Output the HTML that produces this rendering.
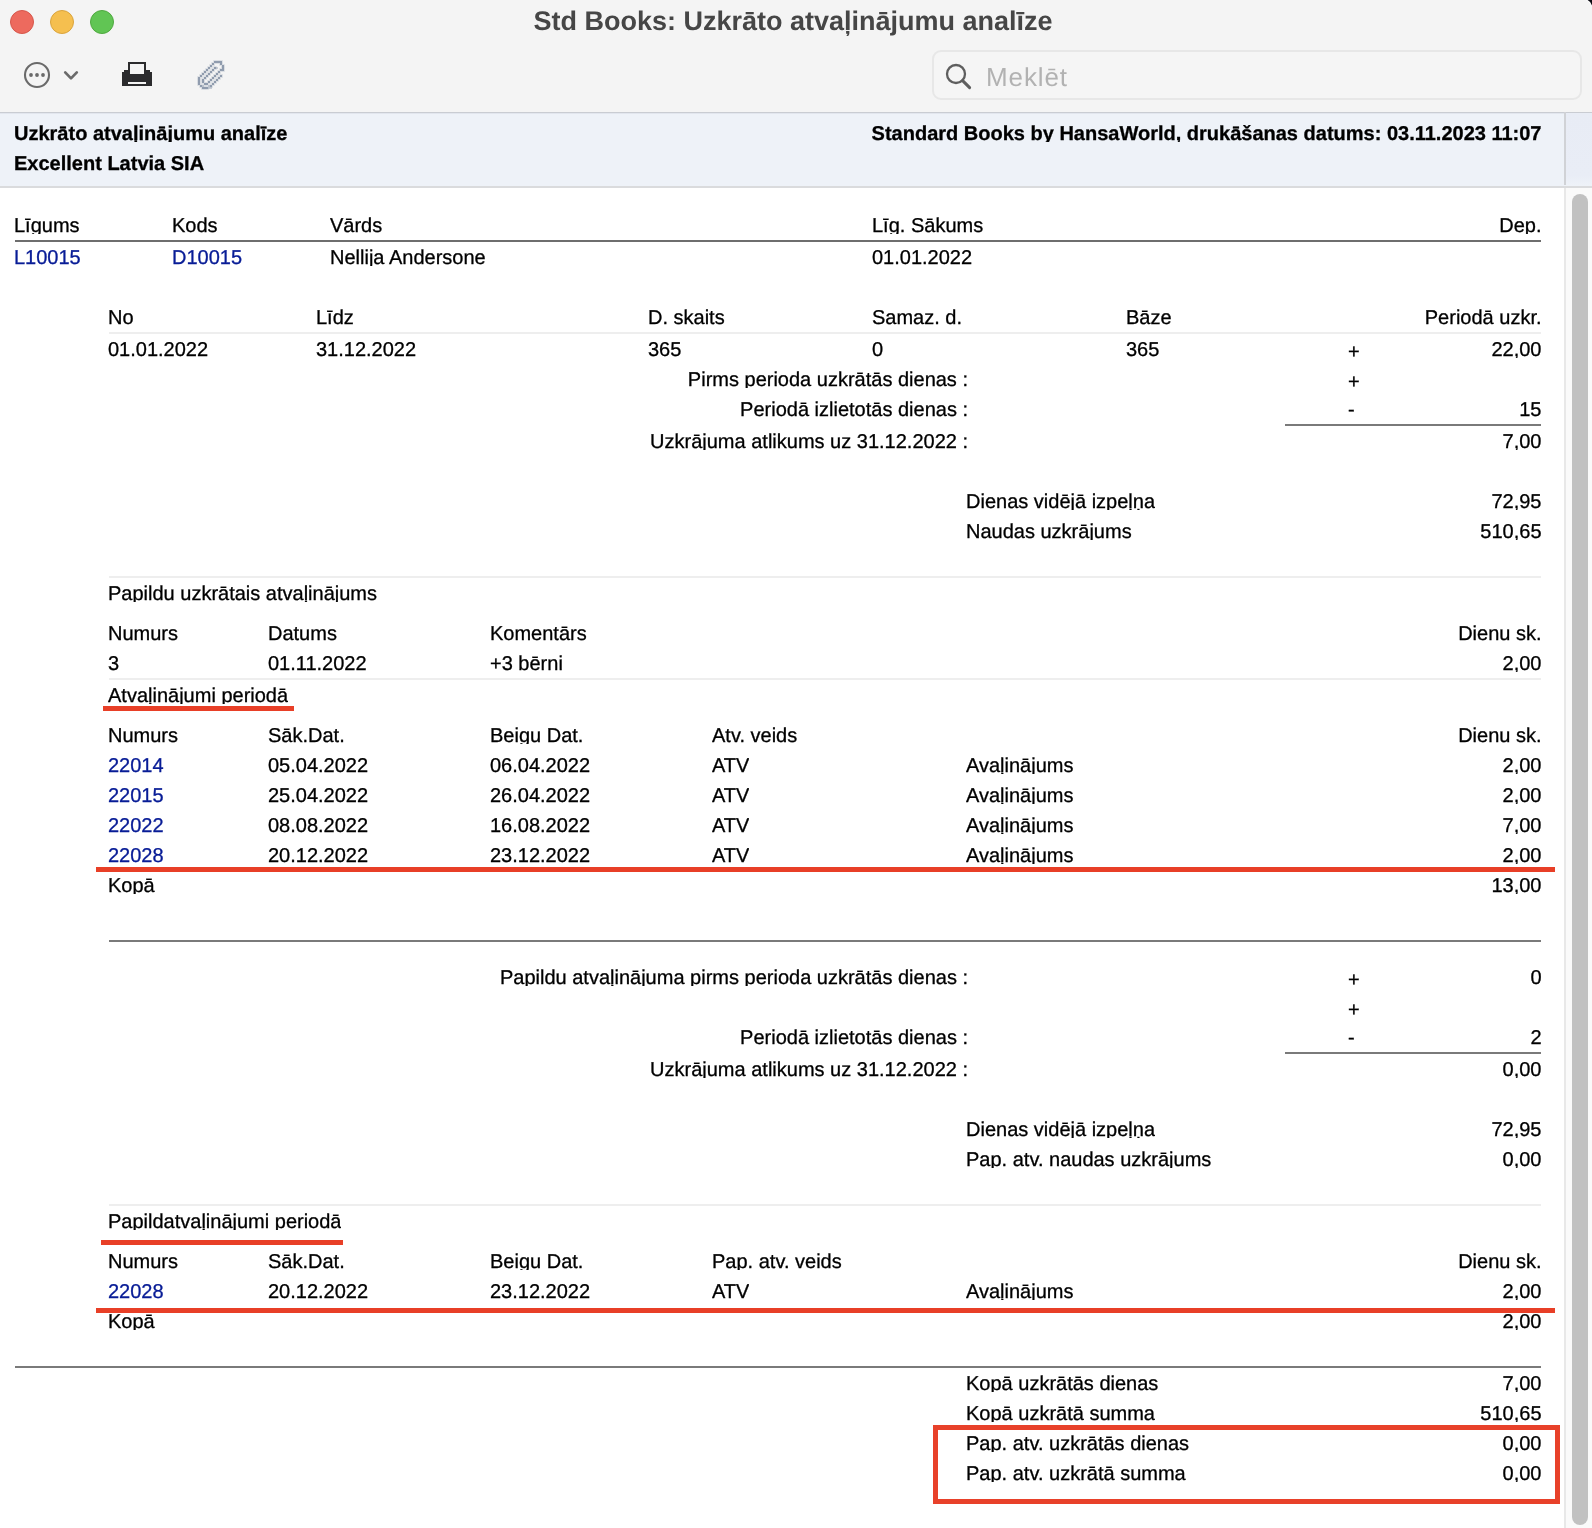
<!DOCTYPE html>
<html><head><meta charset="utf-8">
<style>
html,body{margin:0;padding:0;}
body{width:1592px;height:1528px;position:relative;overflow:hidden;background:#fff;font-family:"Liberation Sans",sans-serif;font-size:20px;color:#000;text-rendering:geometricPrecision;}
.titlebar{position:absolute;left:0;top:0;width:1592px;height:112px;background:#f4f4f4;}
.tl{position:absolute;top:10px;width:24px;height:24px;border-radius:50%;box-sizing:border-box;}
.title{position:absolute;left:-3px;width:1592px;top:6px;text-align:center;font-weight:bold;font-size:27px;line-height:30px;color:#464646;}
.search{position:absolute;left:932px;top:50px;width:650px;height:50px;box-sizing:border-box;border:2px solid #e7e7e7;border-radius:9px;background:#f5f5f5;}
.search span{position:absolute;left:52px;top:10px;font-size:26px;line-height:30px;color:#b2b2b2;letter-spacing:0.9px;}
.band{position:absolute;left:0;top:112px;width:1592px;height:73px;background:#eef2f8;border-top:1px solid #c9ccd2;border-bottom:2px solid #dadbdd;box-sizing:content-box;box-shadow:inset 0 1px 0 #e2e6ee;}
.bandr{position:absolute;left:1566px;top:113px;width:26px;height:73px;background:linear-gradient(#e8ecf5 0,#e9edf6 85%,#eef2f8 100%);}
.vsep{position:absolute;left:1564px;top:112px;width:2px;height:73px;background:#d0d2d6;}
.track{position:absolute;left:1564px;top:188px;width:28px;height:1340px;background:#fafafa;border-left:2px solid #e8e8e8;box-sizing:border-box;}
.thumb{position:absolute;left:1572px;top:194px;width:16px;height:1331px;border-radius:8px;background:#c1c1c1;}
.t{position:absolute;white-space:nowrap;line-height:20px;height:18px;overflow:hidden;-webkit-text-stroke:0.3px currentColor;}
.t.r{text-align:right;}
.t.b{font-weight:bold;}
.t.a{color:#081c96;}
.hl{position:absolute;}
.ic{position:absolute;display:block;}
.redbox{position:absolute;left:933px;top:1425px;width:627px;height:79px;box-sizing:border-box;border:5px solid #e8412a;}
</style></head><body>
<div class="titlebar"></div>
<div style="position:absolute;left:0;top:0;width:1592px;height:112px;will-change:transform;">
<div class="tl" style="left:10px;background:#ed6a5e;border:1px solid #d5564a"></div>
<div class="tl" style="left:50px;background:#f5bf4f;border:1px solid #d9a33c"></div>
<div class="tl" style="left:90px;background:#61c554;border:1px solid #4fa83f"></div>
<div class="title">Std Books: Uzkrāto atvaļinājumu analīze</div>
<div class="search"><span>Meklēt</span></div>

<svg class="ic" style="left:22px;top:60px" width="60" height="30" viewBox="0 0 60 30">
<circle cx="15" cy="15" r="12" fill="none" stroke="#6a6a6a" stroke-width="2.1"/>
<circle cx="9" cy="15" r="1.9" fill="#6a6a6a"/><circle cx="15" cy="15" r="1.9" fill="#6a6a6a"/><circle cx="21" cy="15" r="1.9" fill="#6a6a6a"/>
<path d="M43.2 12.4 L49 18.4 L54.8 12.4" fill="none" stroke="#6a6a6a" stroke-width="2.7" stroke-linecap="round" stroke-linejoin="round"/>
</svg>
<svg class="ic" style="left:122px;top:62px" width="30" height="24" viewBox="0 0 30 24">
<path d="M0 10 H2 V8 H28 V10 H30 V24 H0 Z" fill="#2b2b2d"/>
<rect x="6" y="0" width="18" height="12" fill="#2b2b2d"/>
<rect x="8" y="2" width="14" height="10" fill="#f4f4f4"/>
<rect x="6" y="20" width="18" height="2" fill="#f4f4f4"/>
</svg>
<svg class="ic" style="left:196px;top:59px" width="30" height="32" viewBox="-2 -2 30 32" fill="#909cae"><g opacity=".28"><rect x="15.2" y="-0.8" width="3.6" height="3.6"/><rect x="17.2" y="-0.8" width="3.6" height="3.6"/><rect x="19.2" y="-0.8" width="3.6" height="3.6"/><rect x="21.2" y="-0.8" width="3.6" height="3.6"/><rect x="13.2" y="1.2" width="3.6" height="3.6"/><rect x="21.2" y="1.2" width="3.6" height="3.6"/><rect x="11.2" y="3.2" width="3.6" height="3.6"/><rect x="23.2" y="3.2" width="3.6" height="3.6"/><rect x="9.2" y="5.2" width="3.6" height="3.6"/><rect x="15.2" y="5.2" width="3.6" height="3.6"/><rect x="23.2" y="5.2" width="3.6" height="3.6"/><rect x="7.2" y="7.2" width="3.6" height="3.6"/><rect x="13.2" y="7.2" width="3.6" height="3.6"/><rect x="21.2" y="7.2" width="3.6" height="3.6"/><rect x="23.2" y="7.2" width="3.6" height="3.6"/><rect x="5.2" y="9.2" width="3.6" height="3.6"/><rect x="11.2" y="9.2" width="3.6" height="3.6"/><rect x="19.2" y="9.2" width="3.6" height="3.6"/><rect x="3.2" y="11.2" width="3.6" height="3.6"/><rect x="9.2" y="11.2" width="3.6" height="3.6"/><rect x="17.2" y="11.2" width="3.6" height="3.6"/><rect x="1.2" y="13.2" width="3.6" height="3.6"/><rect x="7.2" y="13.2" width="3.6" height="3.6"/><rect x="15.2" y="13.2" width="3.6" height="3.6"/><rect x="21.2" y="13.2" width="3.6" height="3.6"/><rect x="-0.8" y="15.2" width="3.6" height="3.6"/><rect x="5.2" y="15.2" width="3.6" height="3.6"/><rect x="13.2" y="15.2" width="3.6" height="3.6"/><rect x="19.2" y="15.2" width="3.6" height="3.6"/><rect x="-0.8" y="17.2" width="3.6" height="3.6"/><rect x="3.2" y="17.2" width="3.6" height="3.6"/><rect x="11.2" y="17.2" width="3.6" height="3.6"/><rect x="17.2" y="17.2" width="3.6" height="3.6"/><rect x="-0.8" y="19.2" width="3.6" height="3.6"/><rect x="3.2" y="19.2" width="3.6" height="3.6"/><rect x="9.2" y="19.2" width="3.6" height="3.6"/><rect x="15.2" y="19.2" width="3.6" height="3.6"/><rect x="-0.8" y="21.2" width="3.6" height="3.6"/><rect x="5.2" y="21.2" width="3.6" height="3.6"/><rect x="7.2" y="21.2" width="3.6" height="3.6"/><rect x="13.2" y="21.2" width="3.6" height="3.6"/><rect x="1.2" y="23.2" width="3.6" height="3.6"/><rect x="11.2" y="23.2" width="3.6" height="3.6"/><rect x="3.2" y="25.2" width="3.6" height="3.6"/><rect x="5.2" y="25.2" width="3.6" height="3.6"/><rect x="7.2" y="25.2" width="3.6" height="3.6"/></g><rect x="16" y="0" width="2" height="2"/><rect x="18" y="0" width="2" height="2"/><rect x="20" y="0" width="2" height="2"/><rect x="22" y="0" width="2" height="2"/><rect x="14" y="2" width="2" height="2"/><rect x="22" y="2" width="2" height="2"/><rect x="12" y="4" width="2" height="2"/><rect x="24" y="4" width="2" height="2"/><rect x="10" y="6" width="2" height="2"/><rect x="16" y="6" width="2" height="2"/><rect x="24" y="6" width="2" height="2"/><rect x="8" y="8" width="2" height="2"/><rect x="14" y="8" width="2" height="2"/><rect x="22" y="8" width="2" height="2"/><rect x="24" y="8" width="2" height="2"/><rect x="6" y="10" width="2" height="2"/><rect x="12" y="10" width="2" height="2"/><rect x="20" y="10" width="2" height="2"/><rect x="4" y="12" width="2" height="2"/><rect x="10" y="12" width="2" height="2"/><rect x="18" y="12" width="2" height="2"/><rect x="2" y="14" width="2" height="2"/><rect x="8" y="14" width="2" height="2"/><rect x="16" y="14" width="2" height="2"/><rect x="22" y="14" width="2" height="2"/><rect x="0" y="16" width="2" height="2"/><rect x="6" y="16" width="2" height="2"/><rect x="14" y="16" width="2" height="2"/><rect x="20" y="16" width="2" height="2"/><rect x="0" y="18" width="2" height="2"/><rect x="4" y="18" width="2" height="2"/><rect x="12" y="18" width="2" height="2"/><rect x="18" y="18" width="2" height="2"/><rect x="0" y="20" width="2" height="2"/><rect x="4" y="20" width="2" height="2"/><rect x="10" y="20" width="2" height="2"/><rect x="16" y="20" width="2" height="2"/><rect x="0" y="22" width="2" height="2"/><rect x="6" y="22" width="2" height="2"/><rect x="8" y="22" width="2" height="2"/><rect x="14" y="22" width="2" height="2"/><rect x="2" y="24" width="2" height="2"/><rect x="12" y="24" width="2" height="2"/><rect x="4" y="26" width="2" height="2"/><rect x="6" y="26" width="2" height="2"/><rect x="8" y="26" width="2" height="2"/><rect x="18" y="6" width="2" height="2" opacity=".45"/><rect x="10" y="26" width="2" height="2" opacity=".45"/><rect x="12" y="26" width="2" height="2" opacity=".45"/><rect x="4" y="24" width="2" height="2" opacity=".45"/><rect x="10" y="24" width="2" height="2" opacity=".45"/></svg>
<svg class="ic" style="left:944px;top:62px" width="30" height="30" viewBox="0 0 30 30">
<circle cx="12" cy="12" r="9" fill="none" stroke="#5e5e5e" stroke-width="2.3"/>
<path d="M18.6 18.6 L25.6 25.6" stroke="#5e5e5e" stroke-width="3" stroke-linecap="round"/>
</svg>
</div>
<svg class="ic" style="left:1584px;top:0" width="8" height="8" viewBox="0 0 8 8"><path d="M1.6 0 H8 V7.4 Q6.6 2.2 1.6 0 Z" fill="#fdfdfd"/><path d="M3.6 0 H8 V5.4 Q6.8 1.6 3.6 0 Z" fill="#0b0b12"/></svg>
<div class="band"></div>
<div class="bandr"></div>
<div class="vsep"></div>
<div class="track"></div>
<div class="thumb"></div>
<div id="content" style="position:absolute;left:0;top:0;width:1592px;height:1528px;will-change:transform;">
<div class="t b" style="left:14px;top:124px">Uzkrāto atvaļinājumu analīze</div>
<div class="t b" style="left:14px;top:154px">Excellent Latvia SIA</div>
<div class="t r b" style="right:50.5px;top:124px">Standard Books by HansaWorld, drukāšanas datums: 03.11.2023 11:07</div>
<div class="t " style="left:14px;top:216px">Līgums</div>
<div class="t " style="left:172px;top:216px">Kods</div>
<div class="t " style="left:330px;top:216px">Vārds</div>
<div class="t " style="left:872px;top:216px">Līg. Sākums</div>
<div class="t r " style="right:50.5px;top:216px">Dep.</div>
<div class="hl" style="left:15px;top:240px;width:1526px;height:2px;background:#6e6e6e"></div>
<div class="t a" style="left:14px;top:248px">L10015</div>
<div class="t a" style="left:172px;top:248px">D10015</div>
<div class="t " style="left:330px;top:248px">Nellija Andersone</div>
<div class="t " style="left:872px;top:248px">01.01.2022</div>
<div class="t " style="left:108px;top:308px">No</div>
<div class="t " style="left:316px;top:308px">Līdz</div>
<div class="t " style="left:648px;top:308px">D. skaits</div>
<div class="t " style="left:872px;top:308px">Samaz. d.</div>
<div class="t " style="left:1126px;top:308px">Bāze</div>
<div class="t r " style="right:50.5px;top:308px">Periodā uzkr.</div>
<div class="hl" style="left:109px;top:332px;width:1432px;height:2px;background:#eeeeee"></div>
<div class="t " style="left:108px;top:340px">01.01.2022</div>
<div class="t " style="left:316px;top:340px">31.12.2022</div>
<div class="t " style="left:648px;top:340px">365</div>
<div class="t " style="left:872px;top:340px">0</div>
<div class="t " style="left:1126px;top:340px">365</div>
<div class="t " style="left:1348px;top:342px">+</div>
<div class="t r " style="right:50.5px;top:340px">22,00</div>
<div class="t r " style="right:624px;top:370px">Pirms perioda uzkrātās dienas :</div>
<div class="t " style="left:1348px;top:372px">+</div>
<div class="t r " style="right:624px;top:400px">Periodā izlietotās dienas :</div>
<div class="t " style="left:1348px;top:400px">-</div>
<div class="t r " style="right:50.5px;top:400px">15</div>
<div class="hl" style="left:1285px;top:424px;width:256px;height:2px;background:#7a7a7a"></div>
<div class="t r " style="right:624px;top:432px">Uzkrājuma atlikums uz 31.12.2022 :</div>
<div class="t r " style="right:50.5px;top:432px">7,00</div>
<div class="t " style="left:966px;top:492px">Dienas vidējā izpeļņa</div>
<div class="t r " style="right:50.5px;top:492px">72,95</div>
<div class="t " style="left:966px;top:522px">Naudas uzkrājums</div>
<div class="t r " style="right:50.5px;top:522px">510,65</div>
<div class="hl" style="left:109px;top:576px;width:1432px;height:2px;background:#eeeeee"></div>
<div class="t " style="left:108px;top:584px">Papildu uzkrātais atvaļinājums</div>
<div class="t " style="left:108px;top:624px">Numurs</div>
<div class="t " style="left:268px;top:624px">Datums</div>
<div class="t " style="left:490px;top:624px">Komentārs</div>
<div class="t r " style="right:50.5px;top:624px">Dienu sk.</div>
<div class="t " style="left:108px;top:654px">3</div>
<div class="t " style="left:268px;top:654px">01.11.2022</div>
<div class="t " style="left:490px;top:654px">+3 bērni</div>
<div class="t r " style="right:50.5px;top:654px">2,00</div>
<div class="hl" style="left:109px;top:678px;width:1432px;height:2px;background:#eeeeee"></div>
<div class="t " style="left:108px;top:686px">Atvaļinājumi periodā</div>
<div class="hl" style="left:103px;top:706px;width:191px;height:5px;background:#e83f27"></div>
<div class="t " style="left:108px;top:726px">Numurs</div>
<div class="t " style="left:268px;top:726px">Sāk.Dat.</div>
<div class="t " style="left:490px;top:726px">Beigu Dat.</div>
<div class="t " style="left:712px;top:726px">Atv. veids</div>
<div class="t r " style="right:50.5px;top:726px">Dienu sk.</div>
<div class="t a" style="left:108px;top:756px">22014</div>
<div class="t " style="left:268px;top:756px">05.04.2022</div>
<div class="t " style="left:490px;top:756px">06.04.2022</div>
<div class="t " style="left:712px;top:756px">ATV</div>
<div class="t " style="left:966px;top:756px">Avaļinājums</div>
<div class="t r " style="right:50.5px;top:756px">2,00</div>
<div class="t a" style="left:108px;top:786px">22015</div>
<div class="t " style="left:268px;top:786px">25.04.2022</div>
<div class="t " style="left:490px;top:786px">26.04.2022</div>
<div class="t " style="left:712px;top:786px">ATV</div>
<div class="t " style="left:966px;top:786px">Avaļinājums</div>
<div class="t r " style="right:50.5px;top:786px">2,00</div>
<div class="t a" style="left:108px;top:816px">22022</div>
<div class="t " style="left:268px;top:816px">08.08.2022</div>
<div class="t " style="left:490px;top:816px">16.08.2022</div>
<div class="t " style="left:712px;top:816px">ATV</div>
<div class="t " style="left:966px;top:816px">Avaļinājums</div>
<div class="t r " style="right:50.5px;top:816px">7,00</div>
<div class="t a" style="left:108px;top:846px">22028</div>
<div class="t " style="left:268px;top:846px">20.12.2022</div>
<div class="t " style="left:490px;top:846px">23.12.2022</div>
<div class="t " style="left:712px;top:846px">ATV</div>
<div class="t " style="left:966px;top:846px">Avaļinājums</div>
<div class="t r " style="right:50.5px;top:846px">2,00</div>
<div class="hl" style="left:96px;top:867px;width:1459px;height:5px;background:#e83f27"></div>
<div class="t " style="left:108px;top:876px">Kopā</div>
<div class="t r " style="right:50.5px;top:876px">13,00</div>
<div class="hl" style="left:109px;top:940px;width:1432px;height:2px;background:#7a7a7a"></div>
<div class="t r " style="right:624px;top:968px">Papildu atvaļinājuma pirms perioda uzkrātās dienas :</div>
<div class="t " style="left:1348px;top:970px">+</div>
<div class="t r " style="right:50.5px;top:968px">0</div>
<div class="t " style="left:1348px;top:1000px">+</div>
<div class="t r " style="right:624px;top:1028px">Periodā izlietotās dienas :</div>
<div class="t " style="left:1348px;top:1028px">-</div>
<div class="t r " style="right:50.5px;top:1028px">2</div>
<div class="hl" style="left:1285px;top:1052px;width:256px;height:2px;background:#7a7a7a"></div>
<div class="t r " style="right:624px;top:1060px">Uzkrājuma atlikums uz 31.12.2022 :</div>
<div class="t r " style="right:50.5px;top:1060px">0,00</div>
<div class="t " style="left:966px;top:1120px">Dienas vidējā izpeļņa</div>
<div class="t r " style="right:50.5px;top:1120px">72,95</div>
<div class="t " style="left:966px;top:1150px">Pap. atv. naudas uzkrājums</div>
<div class="t r " style="right:50.5px;top:1150px">0,00</div>
<div class="hl" style="left:109px;top:1204px;width:1432px;height:2px;background:#eeeeee"></div>
<div class="t " style="left:108px;top:1212px">Papildatvaļinājumi periodā</div>
<div class="hl" style="left:101px;top:1240px;width:242px;height:5px;background:#e83f27"></div>
<div class="t " style="left:108px;top:1252px">Numurs</div>
<div class="t " style="left:268px;top:1252px">Sāk.Dat.</div>
<div class="t " style="left:490px;top:1252px">Beigu Dat.</div>
<div class="t " style="left:712px;top:1252px">Pap. atv. veids</div>
<div class="t r " style="right:50.5px;top:1252px">Dienu sk.</div>
<div class="t a" style="left:108px;top:1282px">22028</div>
<div class="t " style="left:268px;top:1282px">20.12.2022</div>
<div class="t " style="left:490px;top:1282px">23.12.2022</div>
<div class="t " style="left:712px;top:1282px">ATV</div>
<div class="t " style="left:966px;top:1282px">Avaļinājums</div>
<div class="t r " style="right:50.5px;top:1282px">2,00</div>
<div class="hl" style="left:96px;top:1308px;width:1459px;height:5px;background:#e83f27"></div>
<div class="t " style="left:108px;top:1312px">Kopā</div>
<div class="t r " style="right:50.5px;top:1312px">2,00</div>
<div class="hl" style="left:15px;top:1366px;width:1526px;height:2px;background:#7a7a7a"></div>
<div class="t " style="left:966px;top:1374px">Kopā uzkrātās dienas</div>
<div class="t r " style="right:50.5px;top:1374px">7,00</div>
<div class="t " style="left:966px;top:1404px">Kopā uzkrātā summa</div>
<div class="t r " style="right:50.5px;top:1404px">510,65</div>
<div class="t " style="left:966px;top:1434px">Pap. atv. uzkrātās dienas</div>
<div class="t r " style="right:50.5px;top:1434px">0,00</div>
<div class="t " style="left:966px;top:1464px">Pap. atv. uzkrātā summa</div>
<div class="t r " style="right:50.5px;top:1464px">0,00</div>
<div class="redbox"></div>
</div>
</body></html>
